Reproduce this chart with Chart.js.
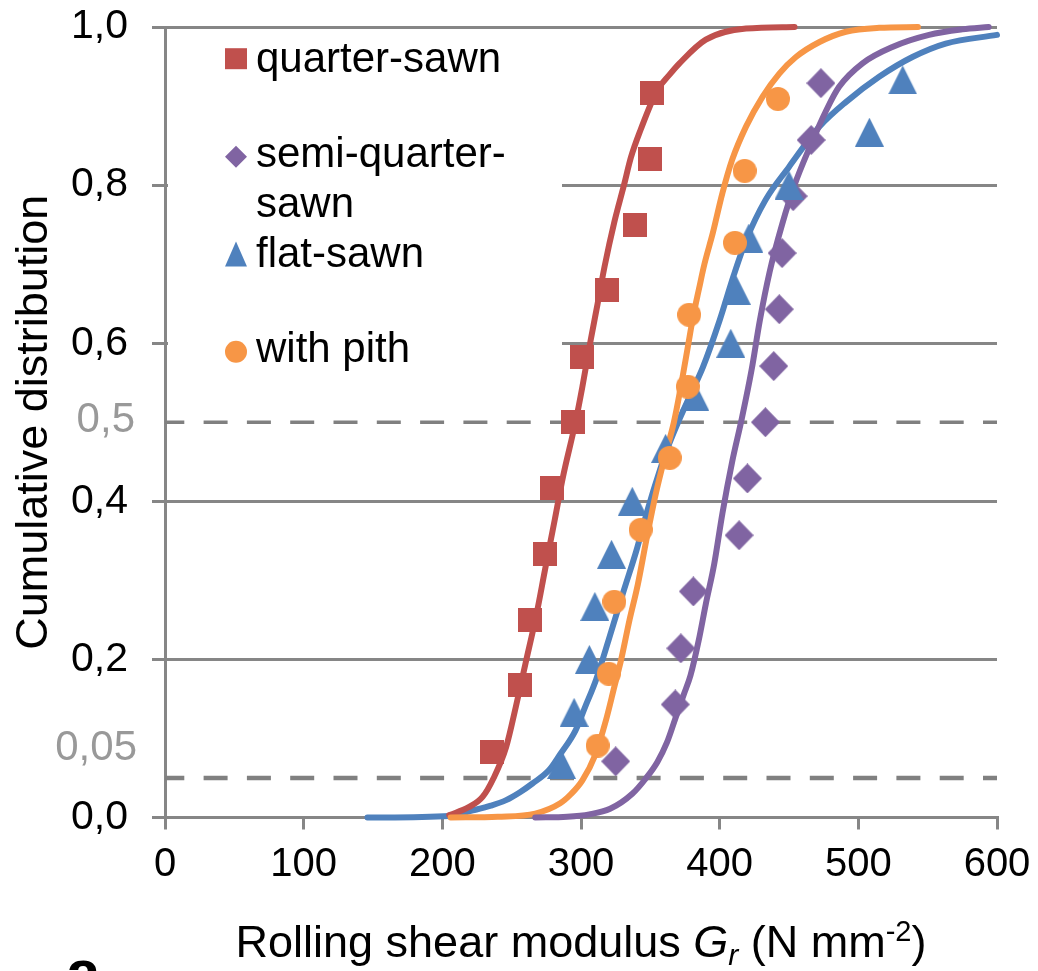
<!DOCTYPE html>
<html>
<head>
<meta charset="utf-8">
<title>Rolling shear modulus – cumulative distribution</title>
<script src="https://cdn.jsdelivr.net/npm/chart.js@4.4.1/dist/chart.umd.min.js"></script>
<style>
  html, body { margin: 0; padding: 0; background: #ffffff; }
  canvas { display: block; }
</style>
</head>
<body>
<canvas id="cdf" width="1038" height="971"></canvas>
<script>
// ---- measured specimens: rolling shear modulus G_r (N/mm²) and cumulative rank ----
const quarterSawnG = [236, 256, 263, 274, 279, 294, 301, 319, 339, 350, 351];
const quarterSawnF = [0.083, 0.167, 0.25, 0.333, 0.417, 0.5, 0.583, 0.667, 0.75, 0.833, 0.917];

const semiQuarterG = [325, 368, 372, 381, 414, 420, 433, 439, 443, 445, 453, 466, 473];
const semiQuarterF = [0.071, 0.143, 0.214, 0.286, 0.357, 0.429, 0.5, 0.571, 0.643, 0.714, 0.786, 0.857, 0.929];

const flatSawnG = [286, 295, 306, 310, 322, 337, 361, 382, 408, 412, 421, 450, 508, 532];
const flatSawnF = [0.067, 0.133, 0.2, 0.267, 0.333, 0.4, 0.467, 0.533, 0.6, 0.667, 0.733, 0.8, 0.867, 0.933];

const withPithG = [312, 320, 324, 343, 364, 377, 378, 411, 418, 442];
const withPithF = [0.091, 0.182, 0.273, 0.364, 0.455, 0.545, 0.636, 0.727, 0.818, 0.909];

// ---- fitted distribution curves ----
const quarterFitG = [205, 219, 229, 237, 246, 253, 260, 268, 274, 281, 287, 296, 301, 307, 312, 317, 324, 331, 336, 343, 355, 364, 371, 390, 419, 454];
const quarterFitF = [0.003, 0.013, 0.026, 0.05, 0.089, 0.14, 0.195, 0.258, 0.313, 0.376, 0.431, 0.50, 0.545, 0.604, 0.65, 0.697, 0.753, 0.80, 0.835, 0.87, 0.92, 0.94, 0.954, 0.984, 0.998, 1.0];

const semiFitG = [267, 290, 306, 321, 337, 347, 355, 362, 368, 374, 379, 385, 390, 396, 402, 409, 416, 423, 429, 436, 445, 454, 465, 477, 486, 503, 525, 551, 575, 594];
const semiFitF = [0, 0.001, 0.004, 0.011, 0.03, 0.05, 0.07, 0.095, 0.125, 0.155, 0.18, 0.225, 0.27, 0.32, 0.385, 0.45, 0.505, 0.566, 0.629, 0.69, 0.75, 0.80, 0.848, 0.895, 0.924, 0.954, 0.975, 0.99, 0.997, 1.0];

const flatFitG = [146, 205, 222, 235, 246, 256, 265, 277, 285, 296, 303, 311, 320, 331, 340, 348, 357, 363, 370, 379, 388, 400, 410, 419, 433, 450, 472, 491, 515, 539, 563, 600];
const flatFitF = [0, 0.002, 0.009, 0.015, 0.022, 0.032, 0.043, 0.06, 0.08, 0.11, 0.14, 0.175, 0.225, 0.288, 0.338, 0.389, 0.44, 0.47, 0.50, 0.535, 0.57, 0.629, 0.685, 0.73, 0.781, 0.823, 0.874, 0.905, 0.937, 0.962, 0.979, 0.99];

const pithFitG = [206, 240, 267, 285, 293, 301, 310, 318, 324, 329, 335, 341, 347, 354, 361, 367, 372, 377, 381, 385, 389, 395, 402, 409, 419, 431, 443, 455, 472, 491, 515, 543];
const pithFitF = [0, 0.001, 0.005, 0.018, 0.03, 0.047, 0.078, 0.123, 0.165, 0.20, 0.25, 0.295, 0.35, 0.41, 0.46, 0.50, 0.545, 0.595, 0.635, 0.668, 0.70, 0.739, 0.79, 0.832, 0.874, 0.912, 0.941, 0.962, 0.981, 0.994, 0.999, 1.0];

// ---- reference levels (median and 5 % fractile) ----
const refRangeG = [0, 600];
const medianLevel = [0.5, 0.5];
const fractileLevel = [0.05, 0.05];

// ---- axis ticks and labels ----
const xTickStep = 100;
const yTickStep = 0.2;
const legendLabels = ['quarter-sawn', ['semi-quarter-', 'sawn'], 'flat-sawn', 'with pith'];
const extraYLabels = [{ value: 0.5, text: '0,5' }, { value: 0.05, text: '0,05' }];

const FONT = "'Liberation Sans', Arial, Helvetica, sans-serif";
const RED = '#C0504D', PURPLE = '#8064A2', BLUE = '#4F81BD', ORANGE = '#F79646';
const GRID = '#868686';

function pairs(xs, ys) { return xs.map((x, i) => ({ x: x, y: ys[i] })); }

// marker sprites
function sprite(w, h, color, path) {
  const c = document.createElement('canvas');
  c.width = w; c.height = h;
  const g = c.getContext('2d');
  g.fillStyle = color;
  g.beginPath();
  path(g, w, h);
  g.closePath();
  g.fill();
  return c;
}
const squareMark = sprite(24, 24, RED, (g, w, h) => g.rect(0, 0, w, h));
const diamondMark = sprite(29, 30, PURPLE, (g, w, h) => { g.moveTo(w / 2, 0); g.lineTo(w, h / 2); g.lineTo(w / 2, h); g.lineTo(0, h / 2); });
const triangleMark = sprite(29, 29, BLUE, (g, w, h) => { g.moveTo(w / 2, 0); g.lineTo(w, h); g.lineTo(0, h); });
const circleMark = sprite(24, 24, ORANGE, (g, w, h) => g.arc(w / 2, h / 2, w / 2, 0, Math.PI * 2));

function markerSet(label, xs, ys, img, order) {
  return { label, data: pairs(xs, ys), showLine: false, pointStyle: img, pointRadius: 12, order };
}
function curve(label, xs, ys, color, order) {
  return {
    label, data: pairs(xs, ys), showLine: true, borderColor: color, borderWidth: 6,
    pointRadius: 0, cubicInterpolationMode: 'monotone', borderJoinStyle: 'round',
    borderCapStyle: 'round', clip: false, order
  };
}
function refLine(label, ys, width, order) {
  return {
    label, data: pairs(refRangeG, ys), showLine: true, borderColor: '#808080', borderWidth: width,
    borderDash: [24, 19.3], borderDashOffset: 4.7, pointRadius: 0, clip: false, order
  };
}

function drawShape(ctx, kind, cx, cy, color) {
  ctx.fillStyle = color;
  ctx.beginPath();
  if (kind === 'square') ctx.rect(cx - 11, cy - 10.5, 22, 21);
  else if (kind === 'diamond') { ctx.moveTo(cx, cy - 11); ctx.lineTo(cx + 11, cy); ctx.lineTo(cx, cy + 11); ctx.lineTo(cx - 11, cy); }
  else if (kind === 'triangle') { ctx.moveTo(cx, cy - 12.5); ctx.lineTo(cx + 11, cy + 12.5); ctx.lineTo(cx - 11, cy + 12.5); }
  else ctx.arc(cx, cy, 11, 0, Math.PI * 2);
  ctx.closePath();
  ctx.fill();
}

const decorations = {
  id: 'decorations',
  beforeDatasetsDraw(chart) {
    // white panel behind the key
    const a = chart.chartArea;
    const ctx = chart.ctx;
    ctx.save();
    ctx.fillStyle = '#ffffff';
    ctx.fillRect(a.left + 3, a.top + 5, 394, 375);
    ctx.restore();
  },
  afterDraw(chart) {
    const ctx = chart.ctx;
    const a = chart.chartArea;
    const yScale = chart.scales.y;
    ctx.save();

    // key
    const kx = a.left + 71, tx = a.left + 91;
    const keys = [
      { kind: 'square', color: RED, cy: 58.7, lines: [71.7] },
      { kind: 'diamond', color: PURPLE, cy: 156.7, lines: [166.7, 216.7] },
      { kind: 'triangle', color: BLUE, cy: 254, lines: [266.7] },
      { kind: 'circle', color: ORANGE, cy: 351.7, lines: [361.7] }
    ];
    ctx.font = '42px ' + FONT;
    ctx.textAlign = 'left';
    ctx.textBaseline = 'alphabetic';
    keys.forEach((k, i) => {
      drawShape(ctx, k.kind, kx, k.cy, k.color);
      const txt = [].concat(legendLabels[i]);
      ctx.fillStyle = '#000000';
      txt.forEach((t, j) => ctx.fillText(t, tx, k.lines[j]));
    });

    // grey labels for the reference levels
    ctx.font = '42px ' + FONT;
    ctx.fillStyle = '#999999';
    ctx.textAlign = 'right';
    ctx.textBaseline = 'middle';
    ctx.fillText(extraYLabels[0].text, 135, yScale.getPixelForValue(extraYLabels[0].value) - 2);
    ctx.fillText(extraYLabels[1].text, 137, yScale.getPixelForValue(extraYLabels[1].value) - 30);

    // x-axis title with italic symbol, subscript and superscript
    const segs = [
      { t: 'Rolling shear modulus ', f: '45px ' + FONT, dy: 0 },
      { t: 'G', f: 'italic 45px ' + FONT, dy: 0 },
      { t: 'r', f: 'italic 30px ' + FONT, dy: 8 },
      { t: ' (N mm', f: '45px ' + FONT, dy: 0 },
      { t: '-2', f: '29px ' + FONT, dy: -16 },
      { t: ')', f: '45px ' + FONT, dy: 0 }
    ];
    let total = 0;
    segs.forEach(s => { ctx.font = s.f; s.w = ctx.measureText(s.t).width; total += s.w; });
    let x = (a.left + a.right) / 2 - total / 2;
    const base = 957;
    ctx.fillStyle = '#000000';
    ctx.textAlign = 'left';
    ctx.textBaseline = 'alphabetic';
    segs.forEach(s => { ctx.font = s.f; ctx.fillText(s.t, x, base + s.dy); x += s.w; });

    // panel letter
    ctx.font = 'bold 62px ' + FONT;
    ctx.fillText('a', 66, 993);
    ctx.restore();
  }
};

new Chart(document.getElementById('cdf'), {
  type: 'scatter',
  data: {
    datasets: [
      markerSet('with pith', withPithG, withPithF, circleMark, 1),
      markerSet('flat-sawn', flatSawnG, flatSawnF, triangleMark, 2),
      markerSet('semi-quarter-sawn', semiQuarterG, semiQuarterF, diamondMark, 3),
      markerSet('quarter-sawn', quarterSawnG, quarterSawnF, squareMark, 4),
      curve('semi-quarter-sawn fit', semiFitG, semiFitF, PURPLE, 5),
      curve('with pith fit', pithFitG, pithFitF, ORANGE, 6),
      curve('quarter-sawn fit', quarterFitG, quarterFitF, RED, 7),
      curve('flat-sawn fit', flatFitG, flatFitF, BLUE, 8),
      refLine('median', medianLevel, 3.5, 9),
      refLine('5 % fractile', fractileLevel, 4.5, 10)
    ]
  },
  options: {
    responsive: false,
    devicePixelRatio: 1,
    animation: false,
    events: [],
    layout: { padding: { left: 0, right: 41, top: 27, bottom: 0 } },
    plugins: { legend: { display: false }, tooltip: { enabled: false } },
    scales: {
      x: {
        type: 'linear', min: 0, max: 600,
        afterFit(s) { s.height = 153.5; s.paddingLeft = 0; s.paddingRight = 0; },
        grid: { drawOnChartArea: false, drawTicks: true, tickLength: 12, color: GRID, lineWidth: 3 },
        border: { display: true, color: GRID, width: 3 },
        ticks: { stepSize: xTickStep, padding: 11, color: '#000000', font: { family: FONT, size: 40 }, maxRotation: 0, autoSkip: false }
      },
      y: {
        type: 'linear', min: 0, max: 1,
        afterFit(s) { s.width = 165; s.paddingTop = 0; s.paddingBottom = 0; },
        grid: { color: GRID, lineWidth: 3, tickLength: 13 },
        border: { display: true, color: GRID, width: 3 },
        ticks: {
          stepSize: yTickStep, padding: 24, color: '#000000', font: { family: FONT, size: 41 },
          callback: v => v.toFixed(1).replace('.', ',')
        },
        title: {
          display: true, text: 'Cumulative distribution', color: '#000000',
          font: { family: FONT, size: 45 }, padding: { top: 8, bottom: 0 }
        }
      }
    }
  },
  plugins: [decorations]
});
</script>
</body>
</html>
